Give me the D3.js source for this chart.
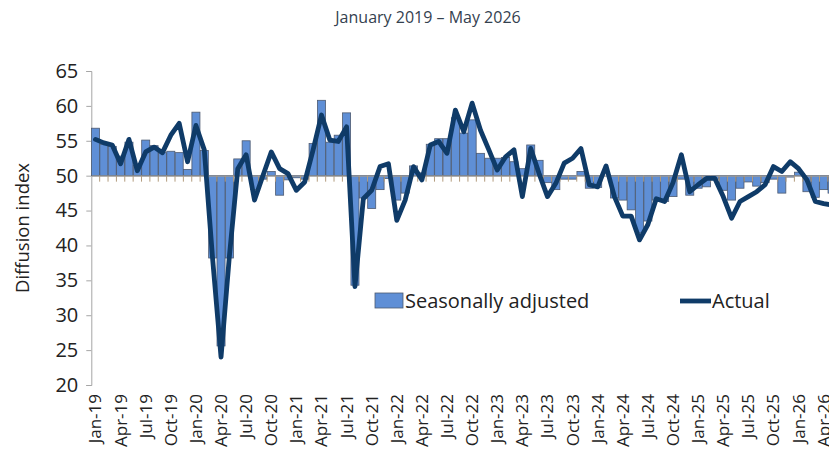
<!DOCTYPE html>
<html>
<head>
<meta charset="utf-8">
<script src="https://cdn.jsdelivr.net/npm/d3@7"></script>
<style>
  html, body { margin: 0; padding: 0; background: #fff; overflow: hidden; }
  svg { display: block; font-family: "Open Sans", "Noto Sans", sans-serif; }
</style>
</head>
<body>
<svg id="chart" width="829" height="454"></svg>
<script>
// Monthly diffusion index, January 2019 to May 2026
const startYear = 2019;
const monthNames = ["Jan","Feb","Mar","Apr","May","Jun","Jul","Aug","Sep","Oct","Nov","Dec"];
const months = d3.range(89).map(i =>
  monthNames[i % 12] + "-" + String((startYear + Math.floor(i / 12)) % 100).padStart(2, "0"));

// Seasonally adjusted index (bars around the 50 line)
const seasonallyAdjusted = [
  56.8, 54.5, 54.2, 52.8, 54.8, 51.5, 55.1, 54.3, 53.3, 53.5, 53.3, 50.9,
  59.1, 53.6, 38.2, 25.6, 38.2, 52.4, 55.0, 48.0, 49.5, 50.6, 47.2, 49.4,
  49.7, 49.5, 54.6, 60.8, 54.8, 55.8, 59.0, 34.3, 46.8, 45.3, 48.0, 49.6,
  46.5, 47.5, 51.4, 50.4, 54.5, 55.3, 55.3, 58.3, 56.1, 58.0, 53.2, 52.5,
  52.5, 52.6, 52.0, 51.0, 54.4, 52.2, 49.0, 48.0, 49.5, 49.5, 50.6, 48.2,
  48.3, 50.0, 46.8, 46.5, 45.1, 41.8, 43.5, 46.5, 46.3, 47.0, 49.5, 47.2,
  48.2, 48.4, 49.5, 47.9, 46.5, 48.2, 49.1, 48.5, 49.0, 49.5, 47.5, 49.8,
  50.5, 47.7, 46.9, 48.0, 47.5
];

// Actual (unadjusted) index
const actual = [
  55.2, 54.7, 54.4, 51.7, 55.2, 50.7, 53.4, 54.1, 53.3, 55.8, 57.5, 52.0,
  57.2, 53.7, 38.0, 24.0, 38.5, 51.0, 53.0, 46.5, 50.0, 53.4, 51.0, 50.3,
  47.9, 49.1, 53.7, 58.7, 55.1, 54.9, 57.0, 34.1, 46.7, 47.9, 51.3, 51.7,
  43.6, 46.5, 51.3, 49.4, 54.4, 54.9, 53.2, 59.4, 56.3, 60.4, 56.5, 53.7,
  50.8, 52.7, 53.7, 47.0, 53.9, 50.3, 47.0, 48.9, 51.8, 52.5, 53.9, 48.7,
  48.4, 51.4, 47.0, 44.2, 44.2, 40.8, 43.0, 46.7, 46.3, 49.0, 53.0, 47.7,
  48.7, 49.6, 49.6, 47.0, 43.9, 46.3, 47.0, 47.7, 48.7, 51.3, 50.6, 52.0,
  51.0, 49.4, 46.3, 46.0, 45.8
];

const yTicks = [20, 25, 30, 35, 40, 45, 50, 55, 60, 65];
const xTickLabels = months.filter((m, i) => i % 3 === 0);

const title = "January 2019 \u2013 May 2026";
const yTitle = "Diffusion index";
const legendLabels = ["Seasonally adjusted", "Actual"];

const svg = d3.select("#chart");

const plotLeft = 91.3, bandW = 8.37;
const x = d3.scaleBand()
  .domain(months)
  .range([plotLeft, plotLeft + months.length * bandW])
  .paddingInner(0.04)
  .paddingOuter(0.02);
const y = d3.scaleLinear().domain([20, 65]).range([385, 71]);

const barFill = "#5f8fd6";
const barStroke = "#4d5a70";
const lineColor = "#0f3b68";
const labelSize = 20;

// Title
svg.append("text")
  .attr("x", 428).attr("y", 23)
  .attr("text-anchor", "middle")
  .attr("font-size", 16)
  .attr("fill", "#34414f")
  .text(title);

// Y axis title
svg.append("text")
  .attr("transform", "translate(29,228) rotate(-90)")
  .attr("text-anchor", "middle")
  .attr("font-size", 18.5)
  .attr("fill", "#222")
  .text(yTitle);

// Y axis
const yAxis = d3.axisLeft(y).tickValues(yTicks).tickSize(5).tickPadding(8);
const gy = svg.append("g").attr("transform", `translate(${plotLeft},0)`).call(yAxis);
gy.select(".domain").attr("stroke", "#a6a6a6");
gy.selectAll(".tick line").attr("stroke", "#a6a6a6");
gy.selectAll(".tick text")
  .attr("font-size", labelSize)
  .attr("fill", "#222")
  .attr("font-family", "'Open Sans', sans-serif");

// Bars from the 50 baseline
svg.append("g").selectAll("rect")
  .data(months)
  .join("rect")
  .attr("x", d => x(d))
  .attr("width", x.bandwidth())
  .attr("y", (d, i) => Math.min(y(seasonallyAdjusted[i]), y(50)))
  .attr("height", (d, i) => Math.abs(y(seasonallyAdjusted[i]) - y(50)))
  .attr("fill", barFill)
  .attr("stroke", barStroke)
  .attr("stroke-width", 0.8);

// Category axis crossing at 50, with tick marks between months
const xAxis = d3.axisBottom(x).tickSize(0).tickFormat("");
const gx = svg.append("g").attr("transform", `translate(0,${y(50)})`).call(xAxis);
gx.select(".domain").attr("stroke", "#9a9a9a").attr("stroke-width", 1.2);
const boundaries = d3.range(months.length + 1).map(k => plotLeft + k * bandW);
svg.append("g").selectAll("line")
  .data(boundaries.slice(1))
  .join("line")
  .attr("x1", d => d).attr("x2", d => d)
  .attr("y1", y(50)).attr("y2", y(50) + 6)
  .attr("stroke", "#b39c7e")
  .attr("stroke-width", 1);

// Month labels along the bottom, every quarter
svg.append("g").selectAll("text")
  .data(xTickLabels)
  .join("text")
  .attr("transform", d => `translate(${x(d) + x.bandwidth() / 2 + 6},394) rotate(-90)`)
  .attr("text-anchor", "end")
  .attr("font-size", 17)
  .attr("fill", "#222")
  .text(d => d);

// Actual line
const line = d3.line()
  .x((d, i) => x(months[i]) + x.bandwidth() / 2)
  .y(d => y(d));
svg.append("path")
  .datum(actual)
  .attr("d", line)
  .attr("fill", "none")
  .attr("stroke", lineColor)
  .attr("stroke-width", 4.8)
  .attr("stroke-linejoin", "round")
  .attr("stroke-linecap", "round");

// Legend
const lg = svg.append("g");
lg.append("rect")
  .attr("x", 375).attr("y", 293).attr("width", 28).attr("height", 15)
  .attr("fill", barFill).attr("stroke", barStroke).attr("stroke-width", 0.8);
lg.append("text")
  .attr("x", 405).attr("y", 308)
  .attr("font-size", labelSize).attr("fill", "#222")
  .text(legendLabels[0]);
lg.append("line")
  .attr("x1", 680).attr("x2", 711).attr("y1", 301).attr("y2", 301)
  .attr("stroke", lineColor).attr("stroke-width", 4.8);
lg.append("text")
  .attr("x", 712).attr("y", 308)
  .attr("font-size", labelSize).attr("fill", "#222")
  .text(legendLabels[1]);
</script>
</body>
</html>
